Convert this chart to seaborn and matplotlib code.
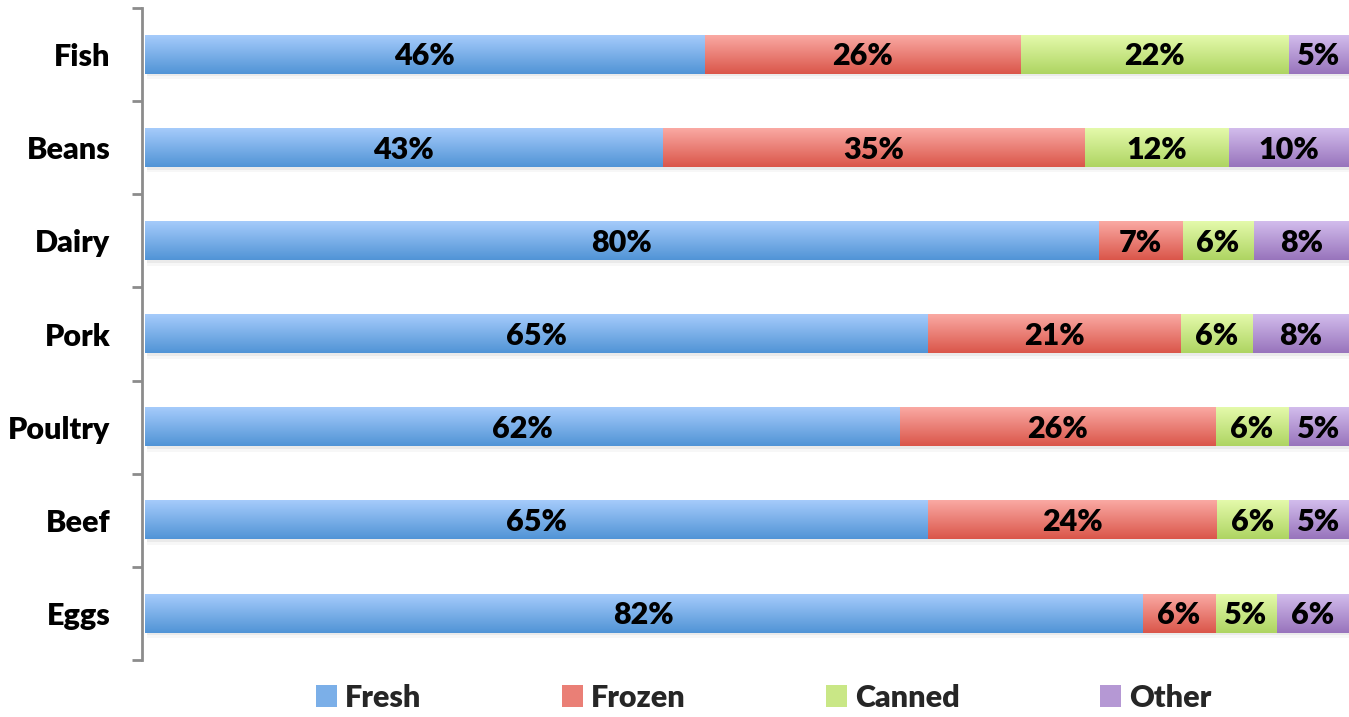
import numpy as np
import pandas as pd
import matplotlib
matplotlib.use("Agg")
import matplotlib.pyplot as plt
import matplotlib.patches as mpatches
import seaborn as sns

categories = ["Fish", "Beans", "Dairy", "Pork", "Poultry", "Beef", "Eggs"]
series = ["Fresh", "Frozen", "Canned", "Other"]
fresh = [46, 43, 80, 65, 62, 65, 82]
frozen = [26, 35, 7, 21, 26, 24, 6]
canned = [22, 12, 6, 6, 6, 6, 5]
other = [5, 10, 8, 8, 5, 5, 6]

top_colors = {"Fresh": "#A5CBFB", "Frozen": "#FAA9A3", "Canned": "#E4FAAB", "Other": "#D2BCEC"}
bot_colors = {"Fresh": "#5194D6", "Frozen": "#DA564A", "Canned": "#AED462", "Other": "#9874BC"}
mid_colors = {"Fresh": "#7BAFE8", "Frozen": "#EA7F76", "Canned": "#C9E786", "Other": "#B598D4"}

sns.set_theme(style="white")
plt.rcParams["font.family"] = ["Lato", "DejaVu Sans"]
FW = "heavy"
FS = 22

vals = np.array([fresh, frozen, canned, other], dtype=float)
totals = vals.sum(axis=0)
norm = vals / totals * 100
cum = np.cumsum(norm, axis=0)

rows = []
for s_i, s in enumerate(series):
    for c_i, c in enumerate(categories):
        rows.append({"category": c, "series": s, "cum": cum[s_i, c_i]})
df = pd.DataFrame(rows)

fig = plt.figure(figsize=(13.49, 7.17), dpi=100)
ax = fig.add_axes([0.1075, 0.0795, 0.8925, 0.9093])

order_draw = series[::-1]
sns.barplot(data=df, y="category", x="cum", hue="series", hue_order=order_draw,
            order=categories, dodge=False, orient="h", width=0.41,
            palette=[mid_colors[s] for s in order_draw], ax=ax, legend=False,
            saturation=1, linewidth=0)

ax.set_xlim(0, 100)
ax.set_ylim(6.5, -0.5)

# gradient fill for each bar
n = 64
for k, patch in enumerate(list(ax.patches)):
    fc = matplotlib.colors.to_hex(patch.get_facecolor())
    sname = [s for s in series if matplotlib.colors.to_hex(mid_colors[s]) == fc]
    if not sname:
        continue
    s = sname[0]
    bb = patch.get_bbox()
    if bb.width <= 0:
        continue
    t = np.array(matplotlib.colors.to_rgb(top_colors[s]))
    b = np.array(matplotlib.colors.to_rgb(bot_colors[s]))
    f = np.linspace(0, 1, n)[:, None]
    grad = (t * (1 - f) + b * f)[:, None, :]
    if s == "Other":
        for d, a in [(0.03, 0.05), (0.06, 0.03)]:
            sh = mpatches.Rectangle((bb.x0 + 0.2, bb.y0 + d), bb.width, bb.height,
                                    facecolor="#000000", alpha=a, linewidth=0, zorder=1)
            ax.add_patch(sh)
    ax.imshow(grad, extent=(bb.x0, bb.x1, bb.y1, bb.y0), aspect="auto",
              interpolation="bilinear", zorder=2 + k * 0.01)
    patch.set_visible(False)

ax.set_xlim(0, 100)
ax.set_ylim(6.5, -0.5)

# value labels
for c_i in range(len(categories)):
    start = 0.0
    for s_i, s in enumerate(series):
        w = norm[s_i, c_i]
        ax.text(start + w / 2, c_i + 0.02, f"{int(vals[s_i, c_i])}%", ha="center", va="center",
                fontsize=FS, fontweight=FW, color="black", zorder=10)
        start += w

# axes styling
for sp in ["top", "right", "bottom"]:
    ax.spines[sp].set_visible(False)
ax.spines["left"].set_color("#8C8C8C")
ax.spines["left"].set_linewidth(2)
ax.spines["left"].set_position(("outward", 2))
ax.set_xticks([])
ax.set_xlabel("")
ax.set_ylabel("")
ax.tick_params(axis="y", which="major", length=0, pad=23, labelsize=FS)
ax.set_yticks(np.arange(-0.5, 7, 1), minor=True)
ax.tick_params(axis="y", which="minor", length=7, width=2, color="#8C8C8C", left=True)
for lbl in ax.get_yticklabels():
    lbl.set_fontweight(FW)
    lbl.set_color("black")

handles = [mpatches.Patch(facecolor=mid_colors[s], label=s, linewidth=0) for s in series]
fig.legend(handles=handles, loc="center", bbox_to_anchor=(0.566, 0.027), ncol=4, frameon=False,
           prop={"size": FS, "weight": FW}, handlelength=0.69, handleheight=0.69,
           handletextpad=0.26, columnspacing=4.6)

fig.savefig("out.png", dpi=100)
